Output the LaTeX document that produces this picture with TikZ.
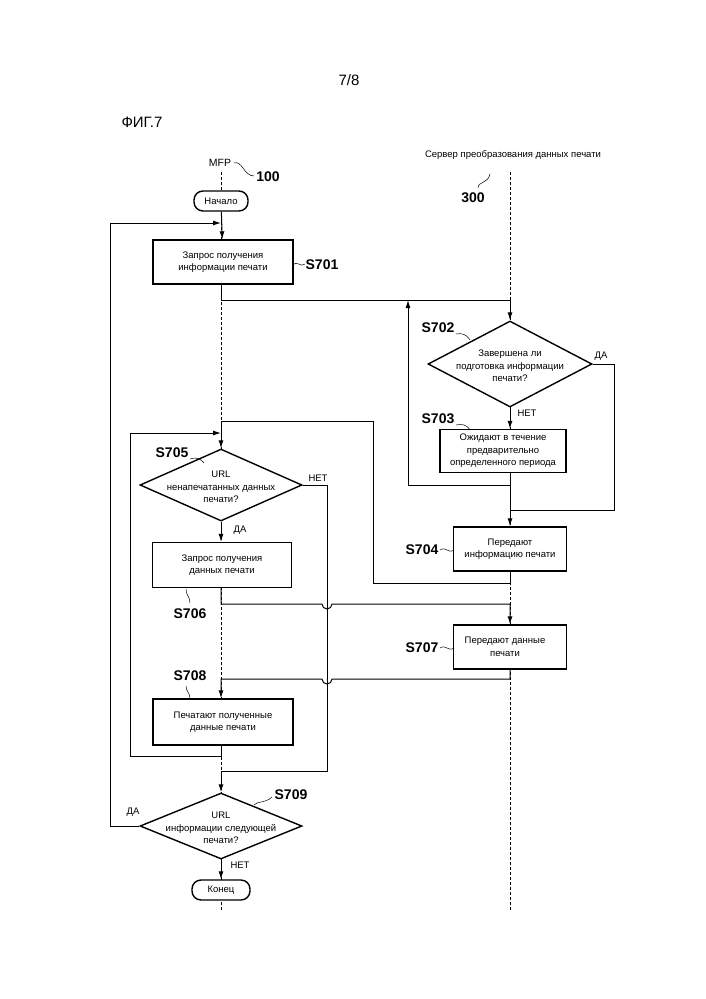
\documentclass[tikz,border=0pt]{standalone}
\usepackage{fontspec}
\setmainfont{Liberation Sans}
\usetikzlibrary{shapes.geometric,arrows.meta}
\begin{document}
\begin{tikzpicture}[x=1pt,y=-1pt,
  box/.style={draw,line width=1.4pt,inner sep=0pt},
  dia/.style={draw,line width=1.4pt,diamond,inner sep=0pt},
  term/.style={draw,line width=1.4pt,rounded corners=9pt,inner sep=0pt,font=\fontsize{9.5}{10}\selectfont},
  txt/.style={font=\fontsize{9.5}{12.5}\selectfont,align=center},
  stp/.style={font=\bfseries\fontsize{14}{14}\selectfont},
  life/.style={densely dashed,line width=0.8pt},
  ln/.style={line width=1pt},
  arr/.style={ln,-{Latex[length=8pt,width=5pt]}},
  sq/.style={line width=0.5pt}]
\useasboundingbox (0,0) rectangle (705,999);
\node (pg) at (349,80) {\fontsize{15}{15}\selectfont 7/8};
\node (fig) at (142,122) {\fontsize{15}{15}\selectfont ФИГ.7};
\node (mfp) at (220,163) {\fontsize{10.5}{10}\selectfont MFP};
\node[stp] (n100) at (268,177) {100};
\draw[sq] (234,163) .. controls (242,160) and (244,176) .. (254,176);
\node (srv) at (513,155) {\fontsize{9.5}{10}\selectfont Сервер преобразования данных печати};
\node[stp] (n300) at (473,198) {300};
\draw[sq] (490,174) .. controls (488,184) and (478,181) .. (478,188);
\coordinate (l0) at (221,172); \coordinate (l1) at (221,910);
\coordinate (r0) at (510,172); \coordinate (r1) at (510,910);
\draw[life] (l0) -- (l1);
\draw[life] (r0) -- (r1);

% nodes
\node[term,fill=white,minimum width=54pt,minimum height=20pt] (start) at (221,201) {Начало};
\node[box,fill=white,minimum width=140pt,minimum height=44pt] (s701) at (223,262) {};
\node[txt] at (223,262) {Запрос получения\\ информации печати};
\node[stp] (l701) at (322,265) {S701};
\draw[sq] (293,265) .. controls (298,260) and (300,268) .. (305,264);

\node[dia,fill=white,minimum width=164pt,minimum height=86pt] (s702) at (510,364) {};
\node[txt] at (510,366) {Завершена ли\\ подготовка информации\\ печати?};
\node[stp] (l702) at (438,328) {S702};
\draw[sq] (456,334) .. controls (462,333) and (466,334) .. (470,340);
\node[box,fill=white,minimum width=126pt,minimum height=43pt] (s703) at (503,451) {};
\node[txt] at (503,451) {Ожидают в течение\\ предварительно\\ определенного периода};
\node[stp] (l703) at (438,419) {S703};
\draw[sq] (456,425) .. controls (462,424) and (466,424) .. (470,430);
\node[box,fill=white,minimum width=113pt,minimum height=44pt] (s704) at (510,549) {};
\node[txt] at (510,549) {Передают\\ информацию печати};
\node[stp] (l704) at (422,550) {S704};
\draw[sq] (440,550) .. controls (446,546) and (448,554) .. (454,550);
\node[box,fill=white,minimum width=113pt,minimum height=44pt] (s707) at (510,647) {};
\node[txt] at (505,647) {Передают данные\\ печати};
\node[stp] (l707) at (422,648) {S707};
\draw[sq] (440,648) .. controls (446,644) and (448,652) .. (454,648);

\node[dia,fill=white,minimum width=162pt,minimum height=72pt] (s705) at (221,485) {};
\node[txt] at (221,487) {URL\\ ненапечатанных данных\\ печати?};
\node[stp] (l705) at (172,453) {S705};
\draw[sq] (190,459) .. controls (196,457) and (200,458) .. (204,463);
\node[box,fill=white,minimum width=139pt,minimum height=45pt] (s706) at (222,565) {};
\node[txt] at (222,565) {Запрос получения\\ данных печати};
\node[stp] (l706) at (190,614) {S706};
\draw[sq] (186,589) .. controls (186,596) and (190,596) .. (190,603);
\node[box,fill=white,minimum width=140pt,minimum height=46pt] (s708) at (223,722) {};
\node[txt] at (223,722) {Печатают полученные\\ данные печати};
\node[stp] (l708) at (190,676) {S708};
\draw[sq] (186,686) .. controls (186,692) and (190,692) .. (190,699);
\node[dia,fill=white,minimum width=162pt,minimum height=66pt] (s709) at (221,826) {};
\node[txt] at (221,828) {URL\\ информации следующей\\ печати?};
\node[stp] (l709) at (291,795) {S709};
\draw[sq] (254,805) .. controls (260,800) and (264,804) .. (272,797);
\node[term,fill=white,minimum width=58pt,minimum height=20pt] (end) at (221,890) {Конец};

% labels
\node[txt] (da1) at (601,356) {ДА};
\node[txt] (net1) at (527,413) {НЕТ};
\node[txt] (net2) at (318,478) {НЕТ};
\node[txt] (da2) at (240,530) {ДА};
\node[txt] (da3) at (133,812) {ДА};
\node[txt] (net3) at (240,865) {НЕТ};

% connectors
\coordinate (jr) at (510,485);
\draw[arr] (start) -- (s701);
\draw[arr] (s701.south -| start) -- (221,300) -- (510,300) -- (s702.north);
\draw[arr] (s702.south) -- (s702.south |- s703.north);
\draw[arr] (s702.south |- s703.south) -- (jr) -- (408,485) -- (408,300);
\draw[ln] (s702.east) -- (614,364) -- (614,510) -- (510,510);
\draw[arr] (jr) -- (s704.north);
\draw[arr] (s704.south) -- (510,583) -- (373,583) -- (373,421) -- (221,421) -- (s705.north);
\draw[arr] (s705.south) -- (s705.south |- s706.north);
\draw[arr] (s705.south |- s706.south) -- (221,604) -- (322,604) arc[start angle=180,end angle=0,radius=5] -- (510,604) -- (s707.north);
\draw[arr] (s707.south) -- (510,679) -- (332,679) arc[start angle=0,end angle=180,radius=5] -- (221,679) -- (s705.south |- s708.north);
\draw[arr] (s705.south |- s708.south) -- (221,756) -- (130,756) -- (130,433) -- (221,433);
\draw[arr] (s705.east) -- (327,485) -- (327,771) -- (221,771) -- (s709.north);
\draw[arr] (s709.west) -- (110,826) -- (110,223) -- (221,223);
\draw[arr] (s709.south) -- (end.north);
\end{tikzpicture}
\end{document}
